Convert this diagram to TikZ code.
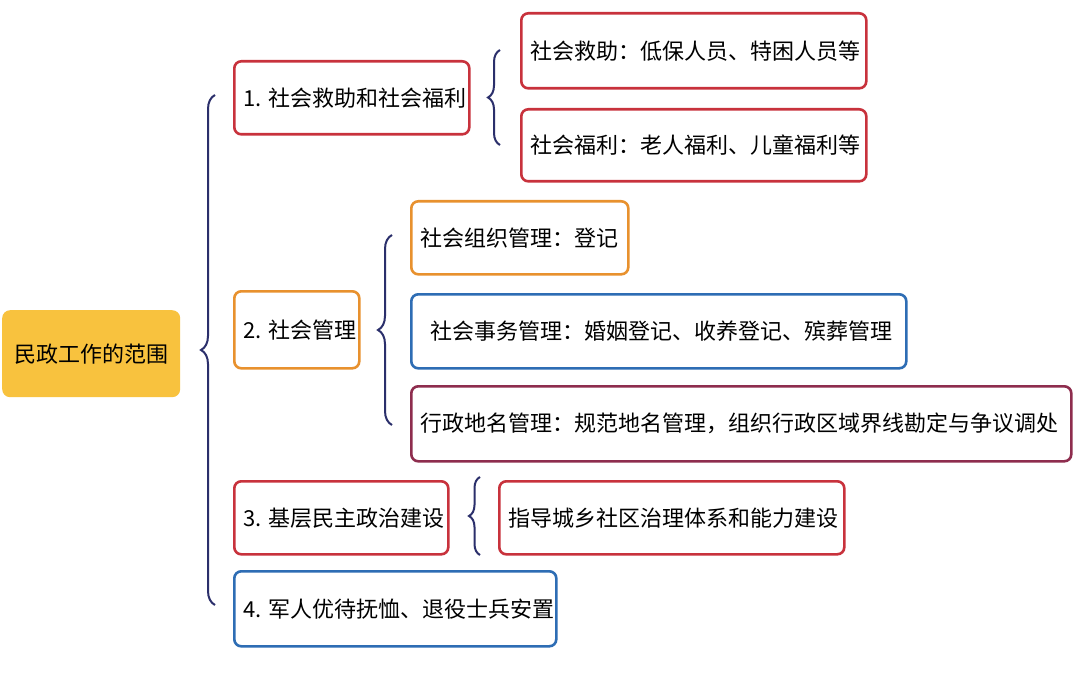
\documentclass[tikz,border=0pt]{standalone}
\usepackage{fontspec}
\setmainfont{Noto Sans CJK SC}
\usetikzlibrary{decorations.pathreplacing}
\definecolor{rb}{HTML}{C8323C}
\definecolor{ob}{HTML}{E8912E}
\definecolor{bb}{HTML}{2E6DB4}
\definecolor{pb}{HTML}{8E2D4E}
\definecolor{nv}{HTML}{2B2F6B}
\definecolor{yf}{HTML}{F8C23E}
\tikzset{
 bx/.style={draw=#1,line width=2.6pt,rounded corners=7pt,fill=white,inner sep=0pt,anchor=north west},
 tx/.style={anchor=west,font=\fontsize{22}{24}\selectfont,text=black,inner sep=0pt},
 br/.style={draw=nv,line width=2pt,decorate,decoration={brace,amplitude=#1}}
}
\newcommand{\bxn}[7]{\node[bx=#1,minimum width=#4pt,minimum height=#5pt] (#7) at (#2,#3) {};
\node[tx] (#7t) at ([xshift=10pt]#7.west) {#6};}
\begin{document}
\begin{tikzpicture}[x=1pt,y=-1pt]
\useasboundingbox (0,0) rectangle (1080,690);
\fill[white] (0,0) rectangle (1080,690);
\node[fill=yf,rounded corners=8pt,minimum width=178pt,minimum height=87pt,anchor=north west,inner sep=0pt,font=\fontsize{22}{24}\selectfont] (root) at (2,310) {民政工作的范围};
\draw[br=14pt] (215,605) -- (215,95);
\bxn{rb}{233}{60}{235}{73}{1. 社会救助和社会福利}{n1}
\draw[br=12pt] (500,145) -- (500,50);
\bxn{rb}{520}{12}{345}{75}{社会救助：低保人员、特困人员等}{a}
\bxn{rb}{520}{108}{345}{72}{社会福利：老人福利、儿童福利等}{b}
\bxn{ob}{233}{290}{125}{77}{2. 社会管理}{n2}
\draw[br=14pt] (392,425) -- (392,235);
\bxn{ob}{410}{200}{217}{73}{社会组织管理：登记}{c}
\node[bx=bb,minimum width=495pt,minimum height=74pt] (d) at (410,293) {};
\node[tx] (dt) at ([xshift=20pt]d.west) {社会事务管理：婚姻登记、收养登记、殡葬管理};
\bxn{pb}{410}{385}{660}{75}{行政地名管理：规范地名管理，组织行政区域界线勘定与争议调处}{e}
\bxn{rb}{233}{480}{214}{73}{3. 基层民主政治建设}{n3}
\draw[br=11pt] (480,555) -- (480,477);
\bxn{rb}{498}{480}{345}{73}{指导城乡社区治理体系和能力建设}{f}
\bxn{bb}{233}{570}{322}{75}{4. 军人优待抚恤、退役士兵安置}{n4}
\end{tikzpicture}
\end{document}
